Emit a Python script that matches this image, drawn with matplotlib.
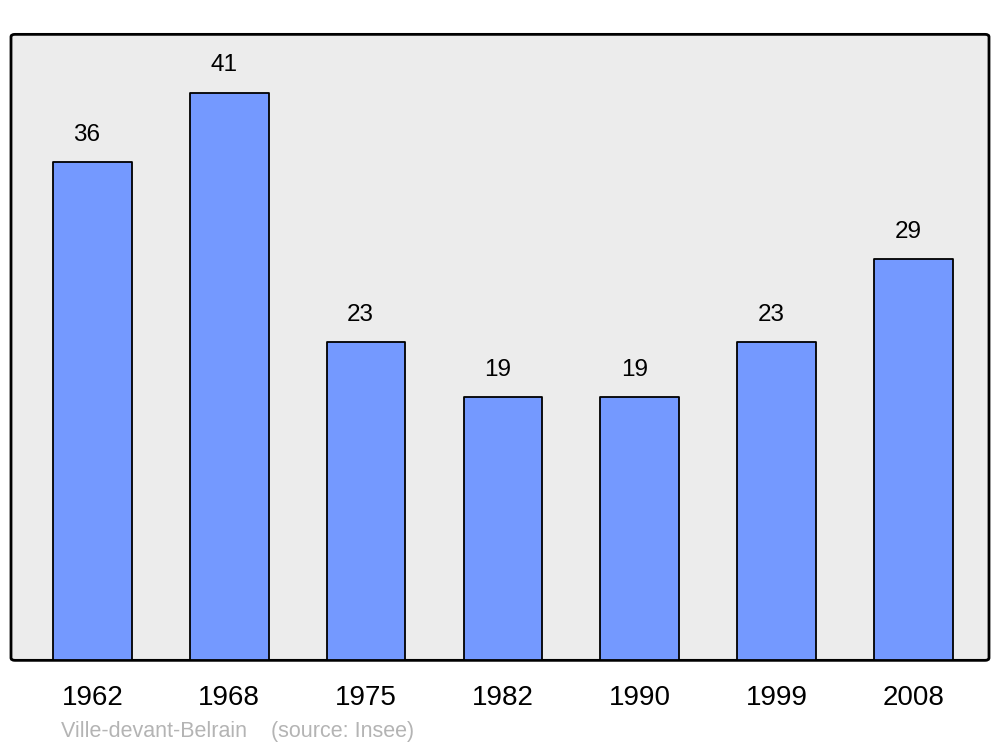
import matplotlib.pyplot as plt
from matplotlib.patches import FancyBboxPatch

years = ["1962", "1968", "1975", "1982", "1990", "1999", "2008"]
population = [36, 41, 23, 19, 19, 23, 29]

fig = plt.figure(figsize=(10, 7.47), dpi=100)
ax = fig.add_axes([0.011, 0.116, 0.978, 0.838])
ax.set_xlim(-0.595, 6.553)
ax.set_ylim(0, 45.2)
ax.patch.set_visible(False)

# rounded background frame
frame = FancyBboxPatch((0, 0), 1, 1, boxstyle="round,pad=0,rounding_size=0.004",
                       transform=ax.transAxes, facecolor="#ececec",
                       edgecolor="black", linewidth=2, zorder=0, clip_on=False)
ax.add_patch(frame)

x = range(len(years))
bars = ax.bar(x, population, width=0.575, color="#7499ff", edgecolor="black",
              linewidth=1.3, joinstyle="round", zorder=2)
for rect, val in zip(bars, population):
    ax.annotate(str(val), (rect.get_x() + rect.get_width() / 2, val),
                xytext=(-4, 19.5), textcoords="offset points",
                ha="center", va="center", fontsize=17.5, family="Liberation Sans")

for spine in ax.spines.values():
    spine.set_visible(False)
ax.set_yticks([])
ax.set_xticks(list(x))
ax.set_xticklabels(years, fontsize=20, family="Liberation Sans")
ax.tick_params(axis="x", length=0, pad=17.5)

fig.text(0.061, 0.013, "Ville-devant-Belrain    (source: Insee)", color="#b4b4b4",
         fontsize=15.5, family="Liberation Sans")

fig.savefig("out.png", dpi=100)
